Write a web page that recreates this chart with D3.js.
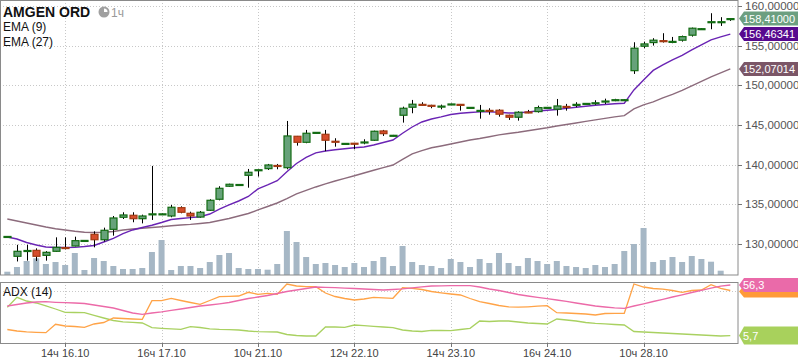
<!DOCTYPE html>
<html>
<head>
<meta charset="utf-8">
<script src="https://cdn.jsdelivr.net/npm/d3@7"></script>
<style>
  body { margin: 0; background: #fff; }
  text { font-family: "Liberation Sans", Arial, sans-serif; }
</style>
</head>
<body>
<div id="chart"></div>
<script>
// ---- data (hourly bars, 76 of them) ----
var open = [130.9,128.45,129.1,129.2,128.57,129.08,129.55,129.75,130.4,131.22,130.54,131.85,133.37,133.62,133.19,133.7,133.72,133.53,134.58,133.87,
  133.4,134.25,135.64,137.28,137.45,138.66,139.3,139.5,139.9,139.62,143.58,142.82,144.0,143.83,142.95,142.62,142.7,142.8,143.08,144.25,
  143.62,146.23,147.24,147.6,147.48,147.32,147.6,147.6,147.17,146.8,146.84,146.86,146.23,145.98,146.64,146.69,147.17,146.99,147.34,147.55,
  147.67,147.76,147.97,148.14,148.14,151.85,154.93,155.39,155.63,155.49,155.69,156.32,157.09,157.97,157.97,158.36];
var high = [131.0,129.9,129.9,129.45,129.1,130.84,130.84,130.92,130.5,131.6,132.06,133.53,134.0,134.0,133.7,139.84,133.85,134.92,134.75,134.07,
  134.16,135.64,137.28,137.6,137.55,139.46,139.4,140.09,140.09,145.51,143.62,144.38,144.1,144.38,143.33,142.7,142.75,143.2,144.29,144.38,
  143.75,147.31,148.16,147.87,147.55,147.57,147.7,147.65,147.25,147.53,147.11,146.99,146.3,146.73,146.9,147.44,147.25,148.28,147.66,147.87,
  147.75,148.12,148.32,148.3,148.25,155.43,155.51,155.94,156.57,156.1,156.27,157.28,157.2,159.09,158.59,158.46];
var low = [130.85,127.8,127.9,127.85,127.9,129.0,129.33,129.7,130.35,129.58,130.3,131.05,133.15,132.74,132.6,133.03,133.65,133.37,133.87,133.03,
  133.32,134.16,135.5,137.2,137.4,137.1,138.5,139.33,139.42,139.42,142.4,142.7,143.95,141.7,142.27,142.55,141.94,142.57,143.0,143.62,
  143.55,145.3,146.48,147.4,147.11,146.98,147.55,146.81,147.1,145.8,146.3,146.05,145.64,145.55,146.48,146.56,147.1,146.18,146.81,147.24,
  147.6,147.53,147.65,148.0,148.05,151.44,154.68,155.01,155.39,155.31,155.51,156.14,157.0,157.07,157.49,158.12];
var close = [130.95,129.08,129.18,128.45,128.95,129.58,129.45,130.42,130.45,130.54,131.73,133.28,133.66,133.19,133.53,133.8,133.8,134.63,134.0,133.53,
  134.0,135.51,137.02,137.53,137.5,139.04,139.36,139.96,139.78,143.62,142.82,143.96,144.07,143.08,142.88,142.68,142.62,142.86,144.21,143.91,
  143.7,147.11,147.62,147.54,147.42,147.38,147.65,147.54,147.22,146.84,146.78,146.36,145.98,146.61,146.58,147.19,147.22,147.4,147.28,147.6,
  147.72,147.8,148.02,148.19,148.19,154.68,155.22,155.69,155.57,155.54,156.14,157.2,157.14,158.02,158.02,158.41];
var volume = [33,80,140,167,110,130,100,220,50,170,140,90,60,60,70,230,350,50,90,90,
  70,130,200,220,70,60,60,53,110,440,330,180,110,120,100,80,120,80,140,180,
  90,290,130,100,90,70,160,130,80,160,120,220,120,90,170,140,110,140,90,80,
  70,100,80,110,240,310,470,130,150,180,130,190,160,133,43,0];
var ema9 = [130.88,130.63,130.19,129.87,129.62,129.56,129.56,129.58,129.68,129.81,130.25,130.72,131.32,131.77,132.08,132.36,132.71,133.09,133.22,133.32,
  133.44,133.78,134.41,134.92,135.42,135.99,136.94,137.44,137.98,139.12,140.15,140.91,141.48,141.73,141.88,142.0,142.13,142.23,142.48,142.8,
  143.11,143.96,144.75,145.38,145.76,146.02,146.33,146.48,146.58,146.65,146.65,146.61,146.52,146.52,146.65,146.77,146.86,146.96,147.09,147.24,
  147.36,147.49,147.59,147.68,147.74,149.42,150.68,151.88,152.57,153.2,153.77,154.46,155.09,155.73,156.1,156.46341];
var ema27 = [133.15,132.9,132.65,132.4,132.14,131.93,131.77,131.6,131.49,131.45,131.48,131.58,131.77,131.89,131.98,132.08,132.18,132.3,132.4,132.48,
  132.59,132.71,132.96,133.22,133.53,133.85,134.29,134.73,135.17,135.71,136.31,136.77,137.19,137.57,137.94,138.28,138.6,138.95,139.29,139.63,
  139.96,140.66,141.35,141.77,142.13,142.36,142.61,142.86,143.11,143.3,143.52,143.75,143.93,144.09,144.28,144.46,144.65,144.88,145.07,145.26,
  145.45,145.64,145.83,146.02,146.18,147.02,147.53,147.91,148.41,148.85,149.36,149.92,150.49,151.06,151.56,152.07014];
var adx = [35.3,36.8,38.3,39.3,39.6,39,38.6,38.3,37.8,36.3,34.8,33.3,30.8,28.3,27,28.3,29.5,31,32.3,33.8,
  35.3,36.3,37.5,38.8,40.8,42.8,44.3,45.8,47.8,49.8,51.3,52.8,54.3,54,53.6,53.1,52.8,52.3,51.8,51.3,
  51.8,52.5,53.5,54.5,55.3,55.5,55.6,55.6,55.6,54.3,52.3,50.8,48.8,46.8,45.3,44,42.6,41.3,40,38.3,
  36.8,35.3,34.3,33.5,33,35.3,37.5,39.8,42,44.3,46.5,48.8,51,53.1,55.1,56.3];
var diPlus = [11.8,10.3,9.5,9,8.6,17,15.3,14.8,14,17.3,18.8,23.3,22.8,22.3,22,40.6,40.6,43,40.8,38.8,
  37,40.8,44.6,45,45.3,49,47,48,47,57.3,55.3,54.6,54.6,48.3,44.8,42.8,41.3,42.3,44,43.5,
  43,53.6,53,51.8,49.8,48.5,47.3,46.3,42.8,39.6,37.8,35.8,34.5,34.1,34.5,35.1,35.6,28.6,28.3,27.8,
  27.3,26.3,27.8,28,28,57.3,54.3,52.8,52.1,50.8,49,50.8,51.3,56.6,53,50.8];
var diMinus = [34,44,40.3,38.3,35.5,32.3,29,28.8,28.6,26,23.3,20.8,19.5,19,18.3,13.6,13,12.5,12,14.6,
  13.8,12.5,11.9,11.6,11.3,10.3,9.6,9.5,9.3,6.8,5.8,5.3,5.3,14.3,14.3,14,16.3,15.6,15,14.3,
  13.6,11.3,10.3,9.8,11,10.8,10.6,11.8,13,20.3,19.8,20.3,20.3,19.3,18.3,17.8,17.3,22.3,21.3,20.3,
  18.8,18,17.5,16.8,16.3,9.8,9.3,8.8,8.3,7.8,7.3,6.8,6.3,5.8,5.3,5.7];
var priceTicks = [130, 135, 140, 145, 150, 155, 160];
var timeTickIdx = [6, 16, 26, 36, 46, 56, 66];
var timeTickLabels = ["14ч 16.10", "16ч 17.10", "10ч 21.10", "12ч 22.10", "14ч 23.10", "16ч 24.10", "10ч 28.10"];

// ---- layout ----
var W = 798, H = 363;
var plotR = 738;
var main = {top: 0, bottom: 275};
var ind = {top: 282, bottom: 343};

var svg = d3.select("#chart").append("svg")
    .attr("width", W).attr("height", H);

var bars = d3.range(close.length);
var x = d3.scaleBand().domain(bars).range([2.5, 2.5 + 9.64 * bars.length]).padding(0);
function cx(i) { return x(i) + x.bandwidth() / 2; }

var y = d3.scaleLinear().domain([130, 160]).range([244, 6]);
var yVol = d3.scaleLinear().domain([0, 470]).range([main.bottom, 228]);
var yAdx = d3.scaleLinear().domain([0, 60]).range([341.3, 281.3]);

function fmt(v, d) { return d3.format("." + d + "f")(v).replace(".", ","); }

// clip paths
var defs = svg.append("defs");
defs.append("clipPath").attr("id", "clipMain").append("rect")
    .attr("x", 0).attr("y", main.top).attr("width", plotR).attr("height", main.bottom - main.top);
defs.append("clipPath").attr("id", "clipInd").append("rect")
    .attr("x", 0).attr("y", ind.top).attr("width", plotR).attr("height", ind.bottom - ind.top);

// ---- grid ----
var grid = svg.append("g").attr("stroke", "#c8c8c8").attr("stroke-dasharray", "1,2");
grid.selectAll("line.h").data(priceTicks).enter().append("line")
    .attr("x1", 0).attr("x2", plotR)
    .attr("y1", function(d) { return Math.round(y(d)) + 0.5; })
    .attr("y2", function(d) { return Math.round(y(d)) + 0.5; });
grid.selectAll("line.v").data(timeTickIdx).enter().append("line")
    .attr("x1", function(d) { return Math.round(cx(d)) + 0.5; })
    .attr("x2", function(d) { return Math.round(cx(d)) + 0.5; })
    .attr("y1", main.top).attr("y2", main.bottom);
grid.selectAll("line.vi").data(timeTickIdx).enter().append("line")
    .attr("x1", function(d) { return Math.round(cx(d)) + 0.5; })
    .attr("x2", function(d) { return Math.round(cx(d)) + 0.5; })
    .attr("y1", ind.top).attr("y2", ind.bottom);
grid.append("line")
    .attr("x1", 0).attr("x2", plotR)
    .attr("y1", Math.round(yAdx(50)) + 0.5).attr("y2", Math.round(yAdx(50)) + 0.5);

// ---- main panel ----
var gMain = svg.append("g").attr("clip-path", "url(#clipMain)");

// volume bars
gMain.selectAll("rect.vol").data(bars).enter().append("rect")
    .attr("x", function(i) { return cx(i) - 3; })
    .attr("width", 6)
    .attr("y", function(i) { return yVol(volume[i]); })
    .attr("height", function(i) { return main.bottom - yVol(volume[i]); })
    .attr("fill", "#a6b7c5");

// EMA lines
var emaLine = function(arr) {
  return d3.line().x(function(i) { return cx(i); }).y(function(i) { return y(arr[i]); })(bars);
};
gMain.append("path").attr("d", emaLine(ema27)).attr("fill", "none")
    .attr("stroke", "#8c6b7c").attr("stroke-width", 1.4);
gMain.append("path").attr("d", emaLine(ema9)).attr("fill", "none")
    .attr("stroke", "#6a24b4").attr("stroke-width", 1.4);

// candles
var candle = gMain.selectAll("g.candle").data(bars).enter().append("g");
candle.append("line")
    .attr("x1", function(i) { return Math.round(cx(i)) + 0.5; })
    .attr("x2", function(i) { return Math.round(cx(i)) + 0.5; })
    .attr("y1", function(i) { return y(high[i]); })
    .attr("y2", function(i) { return y(low[i]); })
    .attr("stroke", "#000").attr("stroke-width", 1);
candle.append("rect")
    .attr("x", function(i) { return Math.round(cx(i)) - 3; })
    .attr("width", 7)
    .attr("y", function(i) { return y(Math.max(open[i], close[i])); })
    .attr("height", function(i) { return Math.max(1, Math.abs(y(open[i]) - y(close[i]))); })
    .attr("fill", function(i) { return close[i] >= open[i] ? "#67a27a" : "#d64d2c"; })
    .attr("stroke", function(i) { return close[i] >= open[i] ? "#136c13" : "#a33a12"; })
    .attr("stroke-width", 1.2);

// ---- indicator panel ----
var gInd = svg.append("g").attr("clip-path", "url(#clipInd)");
var adxLine = function(arr) {
  return d3.line().x(function(i) { return cx(i); }).y(function(i) { return yAdx(arr[i]); })(bars);
};
gInd.append("path").attr("d", adxLine(diMinus)).attr("fill", "none").attr("stroke", "#a9d161").attr("stroke-width", 1.3);
gInd.append("path").attr("d", adxLine(diPlus)).attr("fill", "none").attr("stroke", "#ffa347").attr("stroke-width", 1.3);
gInd.append("path").attr("d", adxLine(adx)).attr("fill", "none").attr("stroke", "#ec6aa8").attr("stroke-width", 1.3);

// panel frames
svg.append("rect").attr("x", 0.5).attr("y", 0.5).attr("width", plotR - 0.5).attr("height", main.bottom - 0.5)
    .attr("fill", "none").attr("stroke", "#8a8a8a");
svg.append("rect").attr("x", 0.5).attr("y", ind.top + 0.5).attr("width", plotR - 0.5).attr("height", ind.bottom - ind.top)
    .attr("fill", "none").attr("stroke", "#8a8a8a");

// right price axis
var axisG = svg.append("g");
axisG.selectAll("line.t").data(priceTicks).enter().append("line")
    .attr("x1", plotR).attr("x2", plotR + 4)
    .attr("y1", function(d) { return Math.round(y(d)) + 0.5; })
    .attr("y2", function(d) { return Math.round(y(d)) + 0.5; })
    .attr("stroke", "#777");
axisG.selectAll("text").data(priceTicks).enter().append("text")
    .attr("x", plotR + 7)
    .attr("y", function(d) { return y(d) + 4; })
    .attr("font-size", "11.5px").attr("fill", "#555")
    .text(function(d) { return fmt(d, 5); });

// bottom time axis
svg.selectAll("line.xt").data(timeTickIdx).enter().append("line")
    .attr("x1", function(d) { return Math.round(cx(d)) + 0.5; })
    .attr("x2", function(d) { return Math.round(cx(d)) + 0.5; })
    .attr("y1", ind.bottom).attr("y2", ind.bottom + 4)
    .attr("stroke", "#777");
svg.selectAll("text.xl").data(timeTickIdx).enter().append("text")
    .attr("x", function(d) { return cx(d); })
    .attr("y", 357)
    .attr("text-anchor", "middle")
    .attr("font-size", "11px").attr("fill", "#444")
    .text(function(d, k) { return timeTickLabels[k]; });

// value tags on the right
function tag(cy, h, color, label, showText) {
  var g = svg.append("g");
  g.append("path")
    .attr("d", "M" + (plotR + 1) + "," + cy + "L" + (plotR + 6) + "," + (cy - h / 2) + "L" + W + "," + (cy - h / 2) +
      "L" + W + "," + (cy + h / 2) + "L" + (plotR + 6) + "," + (cy + h / 2) + "Z")
    .attr("fill", color);
  if (showText !== false) {
    g.append("text").attr("x", plotR + 5).attr("y", cy + 4)
      .attr("font-size", "11px").attr("fill", "#fff").text(label);
  }
}
var last = bars.length - 1;
tag(y(close[last]), 14, "#6c9f80", fmt(close[last], 5));
tag(y(ema9[last]), 14, "#57098f", fmt(ema9[last], 5));
tag(y(ema27[last]), 14, "#7b5667", fmt(ema27[last], 5));
// +DI tag sits under the ADX tag, as in the reference
tag(yAdx(diPlus[last]) + 1, 12, "#ff9a38", fmt(diPlus[last], 1), false);
tag(yAdx(adx[last]), 14, "#ea6aa9", fmt(adx[last], 1));
tag(yAdx(diMinus[last]), 18, "#a8d15c", fmt(diMinus[last], 1));

// titles
svg.append("text").attr("x", 3).attr("y", 17)
    .attr("font-size", "14px").attr("font-weight", "bold").attr("fill", "#111").text("AMGEN ORD");
svg.append("circle").attr("cx", 104).attr("cy", 12).attr("r", 5.5).attr("fill", "#a0a0a0");
svg.append("path").attr("d", d3.arc().innerRadius(0).outerRadius(3.5).startAngle(0).endAngle(Math.PI / 2)())
    .attr("transform", "translate(104,12)").attr("fill", "#fff");
svg.append("text").attr("x", 111).attr("y", 17)
    .attr("font-size", "12px").attr("fill", "#999").text("1ч");
svg.append("text").attr("x", 3).attr("y", 31).attr("font-size", "12px").attr("fill", "#111").text("EMA (9)");
svg.append("text").attr("x", 3).attr("y", 46).attr("font-size", "12px").attr("fill", "#111").text("EMA (27)");
svg.append("text").attr("x", 3).attr("y", 296).attr("font-size", "12px").attr("fill", "#111").text("ADX (14)");
</script>
</body>
</html>
